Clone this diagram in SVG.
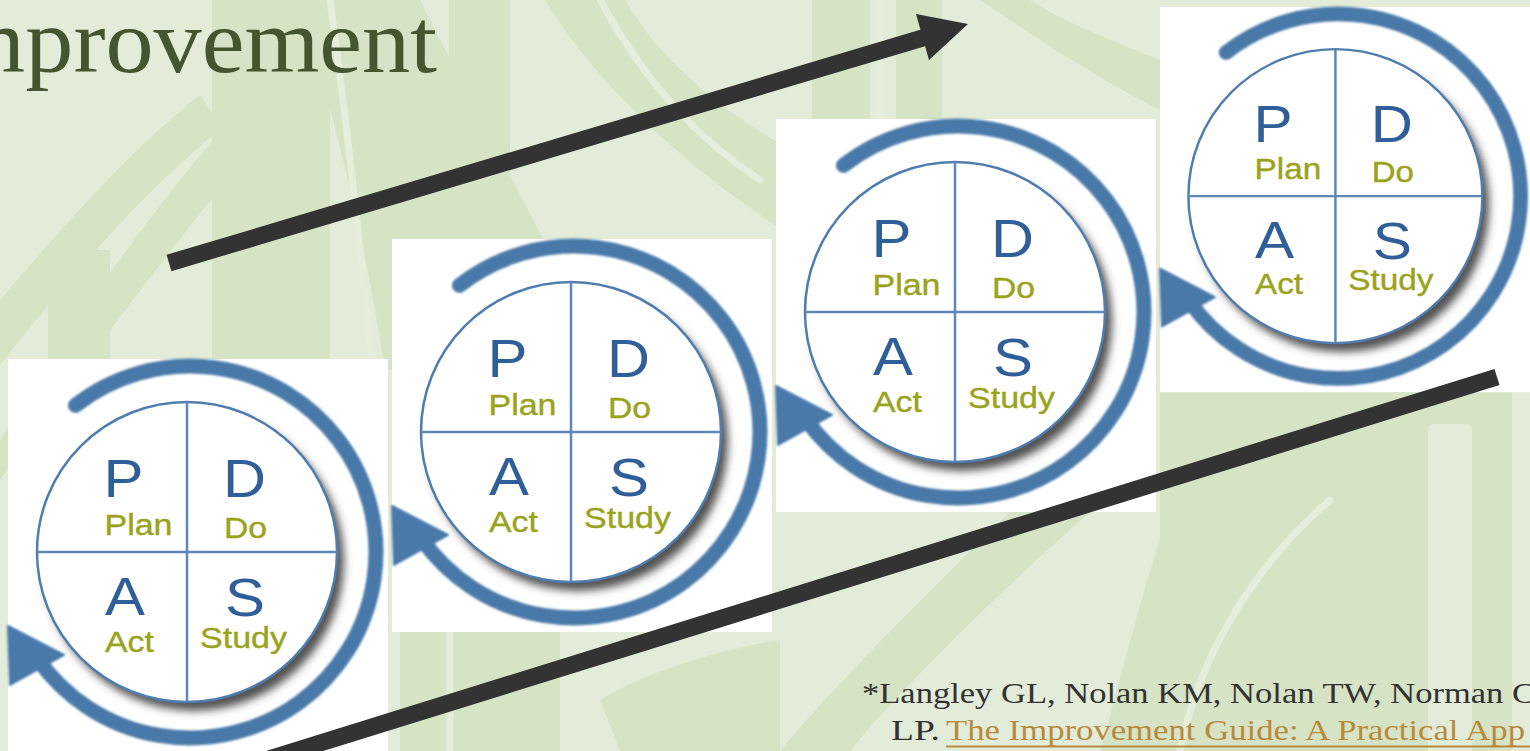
<svg xmlns="http://www.w3.org/2000/svg" width="1530" height="751" viewBox="0 0 1530 751">
<style>
  .leaf{fill:#d6e3c4}
  .glint{fill:none;stroke:#e5eddb;stroke-width:7;stroke-linecap:round}
  .big{font-family:"Liberation Sans",Arial,sans-serif;font-size:53px;fill:#2f5e98}
  .small{font-family:"Liberation Sans",Arial,sans-serif;font-size:30px;fill:#9ba21c;stroke:#9ba21c;stroke-width:0.4}
  .bar{fill:none;stroke:#333333;stroke-width:17}
  .ref{font-family:"Liberation Serif","Times New Roman",serif;font-size:30px;fill:#333333}
  .link{fill:#b88a3e}
  .title{font-family:"Liberation Serif","Times New Roman",serif;font-size:90px;fill:#455530}
</style>
<defs>
  <filter id="soft" x="-6%" y="-6%" width="112%" height="112%"><feGaussianBlur stdDeviation="0.9"/></filter>
  <filter id="shade" x="-20%" y="-20%" width="140%" height="140%"><feGaussianBlur stdDeviation="4.5"/></filter>
  <!-- shared artwork of one PDSA cycle card, 380 x 393 -->
  <g id="cycleArt">
    <rect width="380" height="393" fill="#ffffff"/>
    <circle cx="186" cy="202" r="150" fill="#404040" fill-opacity="0.9" filter="url(#shade)"/>
    <circle cx="179" cy="193" r="150" fill="#ffffff" stroke="#4f7dad" stroke-width="2.5"/>
    <path d="M29 193H329M179 43V343" stroke="#5c87b4" stroke-width="2.5"/>
    <path d="M67.5 46.4A186 186 0 1 1 29.6 299.7" fill="none" stroke="#4a79a9" stroke-width="15" stroke-linecap="round" filter="url(#soft)"/>
    <path d="M0 267L56 296L2 326Z" fill="#4a79a9" stroke="#4a79a9" stroke-width="2" stroke-linejoin="round" filter="url(#soft)"/>
  </g>
</defs>

<!-- bamboo backdrop -->
<g id="backdrop">
  <rect width="1530" height="751" fill="#e3ecd8"/>
  <path class="leaf" d="M0 300C60 230 130 150 200 95L222 128C150 185 70 275 0 365Z"/>
  <path class="leaf" d="M0 440C60 340 150 210 235 115L262 138C180 235 90 355 0 480Z"/>
  <rect class="leaf" x="48" y="250" width="62" height="110"/>
  <rect class="leaf" x="212" y="0" width="118" height="370"/>
  <path class="leaf" d="M300 0H420C440 120 460 240 470 370H385C365 240 335 120 300 0Z"/>
  <path class="leaf" d="M347 0H420C480 120 550 250 610 370L560 380C500 260 420 120 347 0Z"/>
  <rect class="leaf" x="449" y="0" width="61" height="250"/>
  <path class="leaf" d="M545 0C600 90 690 170 790 235L790 150C720 110 660 60 625 0Z"/>
  <rect class="leaf" x="812" y="0" width="58" height="125"/>
  <rect class="leaf" x="896" y="0" width="46" height="125"/>
  <path class="leaf" d="M980 0C1040 40 1100 80 1160 110L1160 60C1110 40 1060 20 1030 0Z"/>
  <path class="leaf" d="M1160 391H1400V751H1160Z"/>
  <path class="leaf" d="M1392 395Q1392 388 1400 388H1504Q1512 388 1512 396V751H1392Z"/>
  <path fill="#e3ecd8" d="M1428 430Q1428 424 1434 424H1466Q1472 424 1472 430V751H1428Z"/>
  <path class="leaf" d="M780 751C840 680 920 600 1010 512L1090 512C990 600 900 690 850 751Z"/>
  <path class="leaf" d="M1100 751C1120 680 1140 600 1160 540L1160 751Z"/>
  <path class="leaf" d="M400 632H560V751H400Z"/>
  <path class="leaf" d="M600 700C650 670 720 650 780 640L780 751H620Z"/>
  <path class="glint" d="M330 0C345 110 360 240 372 370"/>
  <path class="glint" d="M600 0C650 90 700 140 760 180"/>
  <path class="glint" d="M880 0V120"/>
  <path class="glint" d="M1180 751C1200 650 1260 560 1330 500"/>
  <path class="glint" d="M450 632V751"/>
</g>

<!-- slide title, running off the left edge -->
<text class="title" x="408.4" y="72" text-anchor="end" transform="scale(1.07,1)">Improvement</text>

<g id="cycle-1" transform="translate(8,359)">
  <use href="#cycleArt"/>
  <text class="big" x="95.5" y="138" textLength="40" lengthAdjust="spacingAndGlyphs">P</text>
  <text class="big" x="215" y="138" textLength="43" lengthAdjust="spacingAndGlyphs">D</text>
  <text class="small" x="96.5" y="176" textLength="68" lengthAdjust="spacingAndGlyphs">Plan</text>
  <text class="small" x="216" y="179" textLength="43" lengthAdjust="spacingAndGlyphs">Do</text>
  <text class="big" x="97" y="256" textLength="40" lengthAdjust="spacingAndGlyphs">A</text>
  <text class="big" x="217" y="257" textLength="40" lengthAdjust="spacingAndGlyphs">S</text>
  <text class="small" x="97" y="293" textLength="49" lengthAdjust="spacingAndGlyphs">Act</text>
  <text class="small" x="192" y="289" textLength="87" lengthAdjust="spacingAndGlyphs">Study</text>
</g>

<g id="cycle-2" transform="translate(392,239)">
  <use href="#cycleArt"/>
  <text class="big" x="95.5" y="138" textLength="40" lengthAdjust="spacingAndGlyphs">P</text>
  <text class="big" x="215" y="138" textLength="43" lengthAdjust="spacingAndGlyphs">D</text>
  <text class="small" x="96.5" y="176" textLength="68" lengthAdjust="spacingAndGlyphs">Plan</text>
  <text class="small" x="216" y="179" textLength="43" lengthAdjust="spacingAndGlyphs">Do</text>
  <text class="big" x="97" y="256" textLength="40" lengthAdjust="spacingAndGlyphs">A</text>
  <text class="big" x="217" y="257" textLength="40" lengthAdjust="spacingAndGlyphs">S</text>
  <text class="small" x="97" y="293" textLength="49" lengthAdjust="spacingAndGlyphs">Act</text>
  <text class="small" x="192" y="289" textLength="87" lengthAdjust="spacingAndGlyphs">Study</text>
</g>

<g id="cycle-3" transform="translate(776,119)">
  <use href="#cycleArt"/>
  <text class="big" x="95.5" y="138" textLength="40" lengthAdjust="spacingAndGlyphs">P</text>
  <text class="big" x="215" y="138" textLength="43" lengthAdjust="spacingAndGlyphs">D</text>
  <text class="small" x="96.5" y="176" textLength="68" lengthAdjust="spacingAndGlyphs">Plan</text>
  <text class="small" x="216" y="179" textLength="43" lengthAdjust="spacingAndGlyphs">Do</text>
  <text class="big" x="97" y="256" textLength="40" lengthAdjust="spacingAndGlyphs">A</text>
  <text class="big" x="217" y="257" textLength="40" lengthAdjust="spacingAndGlyphs">S</text>
  <text class="small" x="97" y="293" textLength="49" lengthAdjust="spacingAndGlyphs">Act</text>
  <text class="small" x="192" y="289" textLength="87" lengthAdjust="spacingAndGlyphs">Study</text>
</g>

<g id="cycle-4" transform="translate(1160,7) scale(0.98)">
  <use href="#cycleArt"/>
  <text class="big" x="95.5" y="138" textLength="40" lengthAdjust="spacingAndGlyphs">P</text>
  <text class="big" x="215" y="138" textLength="43" lengthAdjust="spacingAndGlyphs">D</text>
  <text class="small" x="96.5" y="176" textLength="68" lengthAdjust="spacingAndGlyphs">Plan</text>
  <text class="small" x="216" y="179" textLength="43" lengthAdjust="spacingAndGlyphs">Do</text>
  <text class="big" x="97" y="256" textLength="40" lengthAdjust="spacingAndGlyphs">A</text>
  <text class="big" x="217" y="257" textLength="40" lengthAdjust="spacingAndGlyphs">S</text>
  <text class="small" x="97" y="293" textLength="49" lengthAdjust="spacingAndGlyphs">Act</text>
  <text class="small" x="192" y="289" textLength="87" lengthAdjust="spacingAndGlyphs">Study</text>
</g>

<g id="connectors">
  <path class="bar" d="M169 263L926 37"/>
  <path d="M916 14L968 24L929 60Z" fill="#333333"/>
  <path class="bar" d="M1497 377L150 796"/>
</g>

<g id="citation">
  <text class="ref" x="862" y="703" textLength="673" lengthAdjust="spacingAndGlyphs">*Langley GL, Nolan KM, Nolan TW, Norman C</text>
  <text class="ref" x="891" y="740" textLength="49" lengthAdjust="spacingAndGlyphs">LP.</text>
  <text class="ref link" x="946" y="740" textLength="579" lengthAdjust="spacingAndGlyphs">The Improvement Guide: A Practical App</text>
  <line x1="946" y1="746.5" x2="1530" y2="746.5" stroke="#b88a3e" stroke-width="2"/>
</g>
</svg>
